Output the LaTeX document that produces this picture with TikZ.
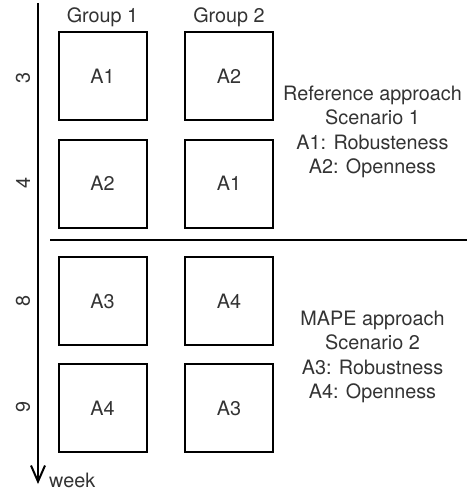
\documentclass[tikz,border=0pt]{standalone}
\usepackage{fontspec}
\setmainfont{TeX Gyre Heros}
\usepackage{xcolor}
\usetikzlibrary{arrows.meta,positioning}
\definecolor{txtgray}{HTML}{333333}

\begin{document}
\begin{tikzpicture}[x=1pt,y=-1pt, every node/.style={font=\fontsize{19.8}{24.5}\selectfont,text=txtgray}, box/.style={draw=black,line width=2pt,minimum size=88pt,inner sep=0pt}, info/.style={align=center}, tick/.style={rotate=90}, >={Straight Barb[length=16pt,width=14pt,line width=2pt]}]
\useasboundingbox (0,0) rectangle (473,492);
% time axis
\coordinate (top) at (38,3);
\coordinate (bot) at (38,484);
\draw[->,line width=2.2pt] (top)--(bot);
\node[anchor=base west,inner sep=0pt] (week) at (49,487) {week};
\node[tick] (w3) at (23,78) {3};
\node[tick] (w4) at (23,183) {4};
\node[tick] (w8) at (23,301) {8};
\node[tick] (w9) at (23,407) {9};
% groups
\node (g1) at (102.5,17) {Group 1};
\node (g2) at (229,17) {Group 2};
\node[box] (a11) at (102.5,76) {A1};
\node[box] (a12) at (229,76) {A2};
\node[box] (a21) at (102.5,183.5) {A2};
\node[box] (a22) at (229,183.5) {A1};
\node[box] (b11) at (102.5,301) {A3};
\node[box] (b12) at (229,301) {A4};
\node[box] (b21) at (102.5,408) {A4};
\node[box] (b22) at (229,408) {A3};
% scenarios
\coordinate (sl) at (50,240);
\coordinate (sr) at (467,240);
\draw[line width=2pt] (sl)--(sr);
\node[info] (s1) at (372.5,132) {Reference approach\\Scenario 1\\A1: Robusteness\\A2: Openness};
\node[info] (s2) at (372.5,357) {MAPE approach\\Scenario 2\\A3: Robustness\\A4: Openness};
\end{tikzpicture}
\end{document}
